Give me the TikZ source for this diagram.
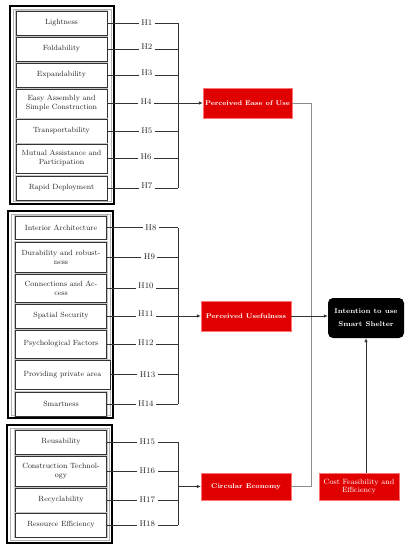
\documentclass[tikz,border=0pt]{standalone}
\usetikzlibrary{arrows.meta}
\definecolor{cred}{RGB}{224,0,0}
\begin{document}
\begin{tikzpicture}[x=1pt,y=-1pt,
  fbox/.style={draw=black!80, line width=0.4pt, preaction={draw=gray!45, line width=2.2pt}, fill=white, minimum width=91pt, inner sep=1pt, align=center, font=\fontsize{7.5}{9}\selectfont, text=black!85},
  hl/.style={fill=white, inner xsep=2.5pt, inner ysep=0.5pt, font=\fontsize{8.3}{9}\selectfont, text=black!85},
  rbox/.style={fill=cred, draw=red!55, line width=0.5pt, text=white, font=\bfseries\fontsize{6.8}{8}\selectfont, align=center, inner sep=0pt},
  ln/.style={draw=black!80, line width=0.6pt},
  arr/.style={ln, -{Latex[length=4pt,width=3.5pt]}},
  gframe/.style={draw=black, line width=1.4pt},
  iframe/.style={draw=gray!60, line width=0.7pt}]
\fill[white] (0,0) rectangle (410,550);
\useasboundingbox (0,0) rectangle (410,550);
\coordinate (b1) at (178,0);
\coordinate (b2) at (311,0);

% group frames
\draw[gframe] (10,6) rectangle (114,204);
\draw[iframe] (13,9) rectangle (111,201);
\draw[gframe] (8,211) rectangle (113,418);
\draw[iframe] (11,214) rectangle (110,415);
\draw[gframe] (7,425) rectangle (112,543);
\draw[iframe] (10,428) rectangle (109,540);

% group 1
\node[fbox, minimum height=24pt] (l1) at (61.5,23) {Lightness};
\node[fbox, minimum height=24pt] (l2) at (61.5,49) {Foldability};
\node[fbox, minimum height=24pt] (l3) at (61.5,75) {Expandability};
\node[fbox, minimum height=29pt] (l4) at (61.5,103.5) {Easy Assembly and\\Simple Construction};
\node[fbox, minimum height=24pt] (l5) at (61.5,131) {Transportability};
\node[fbox, minimum height=29pt] (l6) at (61.5,158.5) {Mutual Assistance and\\Participation};
\node[fbox, minimum height=24pt] (l7) at (61.5,188) {Rapid Deployment};

% group 2
\node[fbox, minimum height=23pt] (m1) at (61,227.5) {Interior Architecture};
\node[fbox, minimum height=30pt] (m2) at (61,257) {Durability and robust-\\ness};
\node[fbox, minimum height=28pt] (m3) at (61,288) {Connections and Ac-\\cess};
\node[fbox, minimum height=24pt] (m4) at (61,316) {Spatial Security};
\node[fbox, minimum height=28pt] (m5) at (61,344) {Psychological Factors};
\node[fbox, minimum height=29pt, minimum width=95pt] (m6) at (62.5,374.5) {Providing private area};
\node[fbox, minimum height=24pt] (m7) at (61,404) {Smartness};

% group 3
\node[fbox, minimum height=24pt] (n1) at (61,442) {Reusability};
\node[fbox, minimum height=30pt] (n2) at (61,471) {Construction Technol-\\ogy};
\node[fbox, minimum height=24pt] (n3) at (61,500) {Recyclability};
\node[fbox, minimum height=24pt] (n4) at (61,525) {Resource Efficiency};

% constructs
\node[rbox, minimum width=89pt, minimum height=30pt] (peu) at (247.5,103) {Perceived Ease of Use};
\node[rbox, minimum width=90pt, minimum height=30pt] (pu) at (246,316) {Perceived Usefulness};
\node[rbox, minimum width=90pt, minimum height=27pt] (ce) at (246,486.5) {Circular Economy};
\node[rbox, minimum width=80pt, minimum height=27pt, font=\fontsize{7.6}{8.8}\selectfont] (cfe) at (359,486.5) {Cost Feasibility and\\Efficiency};
\node[fill=black, rounded corners=5pt, minimum width=76pt, minimum height=40pt, text=white, align=center, font=\bfseries\fontsize{7}{13}\selectfont, inner sep=0pt] (intent) at (366,318) {Intention to use\\Smart Shelter};

% hypothesis lines group 1
\draw[ln] (l1.east) -- node[hl, pos=0.56] {H1} (l1.east -| b1);
\draw[ln] (l2.east) -- node[hl, pos=0.56, yshift=2pt] {H2} (l2.east -| b1);
\draw[ln] (l3.east) -- node[hl, pos=0.56, yshift=2pt] {H3} (l3.east -| b1);
\draw[ln] (l4.east) -- node[hl, pos=0.55, yshift=2pt] {H4} (l4.east -| b1);
\draw[ln] (l5.east) -- node[hl, pos=0.56] {H5} (l5.east -| b1);
\draw[ln] (l6.east) -- node[hl, pos=0.55, yshift=2pt] {H6} (l6.east -| b1);
\draw[ln] (l7.east) -- node[hl, pos=0.56, yshift=2pt] {H7} (l7.east -| b1);
\draw[ln] (l1.east -| b1) -- (l7.east -| b1);
\draw[arr] (peu.west -| b1) -- (peu.west);

% group 2
\draw[ln] (m1.east) -- node[hl, pos=0.62] {H8} (m1.east -| b1);
\draw[ln] (m2.east) -- node[hl, pos=0.6] {H9} (m2.east -| b1);
\draw[ln] (m3.east) -- node[hl, pos=0.55, yshift=2pt] {H10} (m3.east -| b1);
\draw[ln] (m4.east) -- node[hl, pos=0.55, yshift=2pt] {H11} (m4.east -| b1);
\draw[ln] (m5.east) -- node[hl, pos=0.55, yshift=1pt] {H12} (m5.east -| b1);
\draw[ln] (m6.east) -- node[hl, pos=0.55] {H13} (m6.east -| b1);
\draw[ln] (m7.east) -- node[hl, pos=0.55] {H14} (m7.east -| b1);
\draw[ln] (m1.east -| b1) -- (m7.east -| b1);
\draw[arr] (pu.west -| b1) -- (pu.west);

% group 3
\draw[ln] (n1.east) -- node[hl, pos=0.57] {H15} (n1.east -| b1);
\draw[ln] (n2.east) -- node[hl, pos=0.57] {H16} (n2.east -| b1);
\draw[ln] (n3.east) -- node[hl, pos=0.57] {H17} (n3.east -| b1);
\draw[ln] (n4.east) -- node[hl, pos=0.57, yshift=1pt] {H18} (n4.east -| b1);
\draw[ln] (n1.east -| b1) -- (n4.east -| b1);
\draw[arr] (ce.west -| b1) -- (ce.west);

% outcome links
\draw[draw=gray!90, line width=0.7pt] (peu.east) -- (peu.east -| b2) |- (ce.east);
\draw[arr] (pu.east) -- (intent.west |- pu.east);
\draw[arr] (cfe.north -| intent.south) -- (intent.south);
\end{tikzpicture}
\end{document}
